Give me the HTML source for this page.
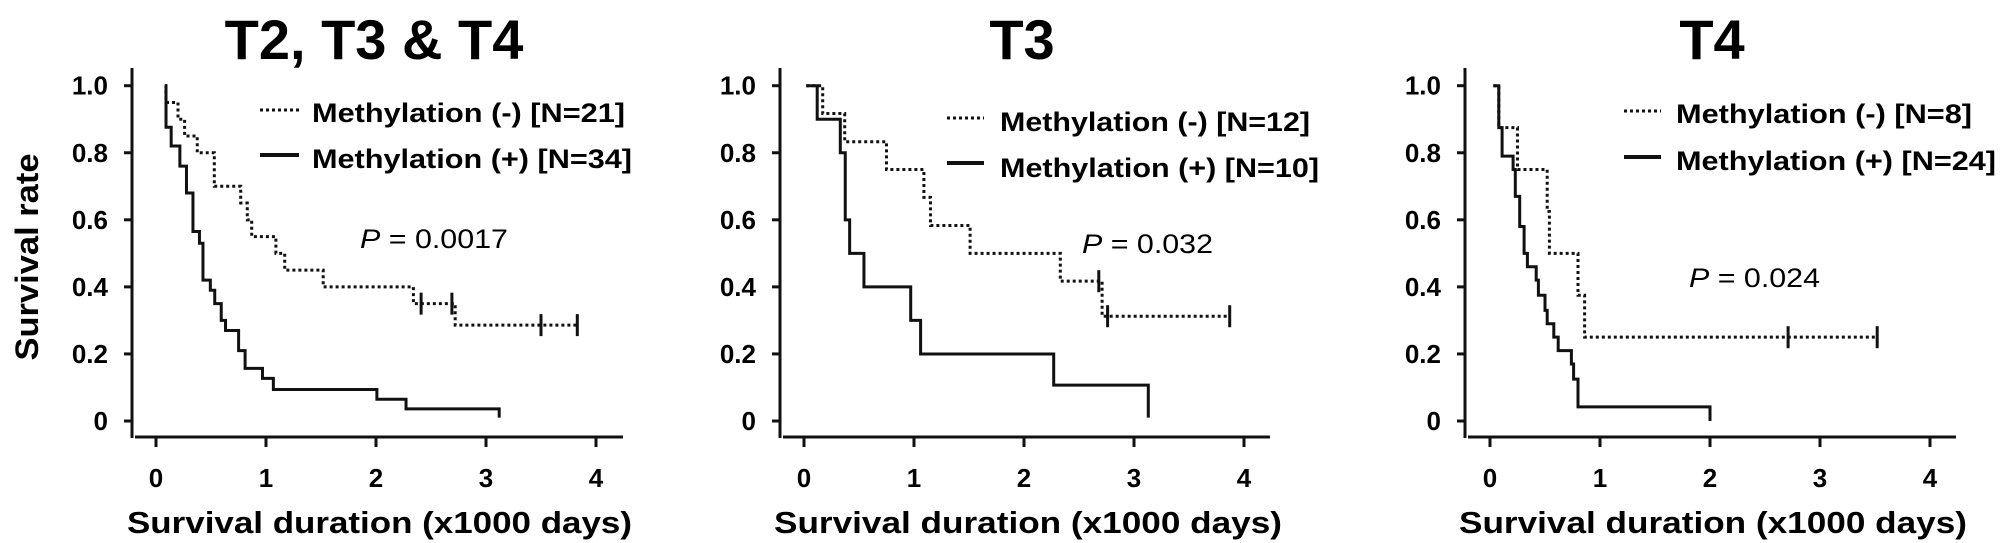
<!DOCTYPE html>
<html><head><meta charset="utf-8">
<style>
html,body{margin:0;padding:0;background:#fff;}
svg{display:block;font-family:"Liberation Sans",Arial,sans-serif;}
</style></head>
<body>
<svg id="chart" width="2008" height="543" viewBox="0 0 2008 543"></svg>
<script>
// ---- data (time in x1000 days, survival rate) ----
const xTicks = [0, 1, 2, 3, 4];
const yTicks = [0, 0.2, 0.4, 0.6, 0.8, 1.0];
const yTickLabels = ["0", "0.2", "0.4", "0.6", "0.8", "1.0"];
const panelTitles = ["T2, T3 & T4", "T3", "T4"];
const negLegend = ["Methylation (-) [N=21]", "Methylation (-) [N=12]", "Methylation (-) [N=8]"];
const posLegend = ["Methylation (+) [N=34]", "Methylation (+) [N=10]", "Methylation (+) [N=24]"];
const pValues = ["0.0017", "0.032", "0.024"];

const p1NegTimes = [0.08, 0.09, 0.2, 0.26, 0.375, 0.53, 0.77, 0.83, 0.87, 1.09, 1.17, 1.52, 2.34, 2.72, 3.83];
const p1NegSurv  = [1.0, 0.95, 0.9, 0.85, 0.8, 0.7, 0.65, 0.6, 0.55, 0.5, 0.45, 0.4, 0.35, 0.286, 0.286];
const p1NegCens  = [2.41, 2.69, 3.5, 3.83];
const p1PosTimes = [0.08, 0.091, 0.138, 0.217, 0.277, 0.336, 0.395, 0.427, 0.494, 0.534, 0.593, 0.632, 0.751, 0.81, 0.968, 1.067, 2.008, 2.273, 3.12, 3.12];
const p1PosSurv  = [1.0, 0.876, 0.82, 0.76, 0.68, 0.565, 0.53, 0.42, 0.39, 0.35, 0.30, 0.27, 0.21, 0.157, 0.127, 0.094, 0.065, 0.036, 0.036, 0.01];

const p2NegTimes = [0.02, 0.17, 0.37, 0.75, 1.09, 1.15, 1.51, 2.33, 2.71, 3.87];
const p2NegSurv  = [1.0, 0.917, 0.833, 0.75, 0.667, 0.583, 0.5, 0.417, 0.3125, 0.3125];
const p2NegCens  = [2.68, 2.76, 3.87];
const p2PosTimes = [0.02, 0.12, 0.33, 0.375, 0.415, 0.545, 0.97, 1.06, 2.27, 3.13, 3.13];
const p2PosSurv  = [1.0, 0.9, 0.8, 0.6, 0.5, 0.4, 0.3, 0.2, 0.107, 0.107, 0.01];

const p3NegTimes = [0.03, 0.08, 0.25, 0.52, 0.54, 0.8, 0.86, 3.52];
const p3NegSurv  = [1.0, 0.875, 0.75, 0.625, 0.5, 0.375, 0.25, 0.25];
const p3NegCens  = [2.71, 3.52];
const p3PosTimes = [0.03, 0.08, 0.11, 0.21, 0.23, 0.27, 0.31, 0.34, 0.42, 0.44, 0.5, 0.52, 0.58, 0.62, 0.74, 0.76, 0.8, 2.0, 2.0];
const p3PosSurv  = [1.0, 0.875, 0.79, 0.75, 0.67, 0.58, 0.5, 0.46, 0.42, 0.375, 0.33, 0.29, 0.25, 0.21, 0.17, 0.125, 0.042, 0.042, 0.0];

const NS = "http://www.w3.org/2000/svg";
const svg = document.getElementById("chart");
function mk(tag, attrs, parent) {
  const e = document.createElementNS(NS, tag);
  for (const k in attrs) e.setAttribute(k, attrs[k]);
  (parent || svg).appendChild(e);
  return e;
}
const Y0 = 421, YSCALE = 335.3;
function yPos(s) { return Y0 - s * YSCALE; }

const layouts = [
  {x0:156, axisX:132, axisEnd:623, title:374, legLine:[260,299], legY:[110,155], legText:[312,625,632], legBase:[122,168], p:[360,508,248], xl:[127,632]},
  {x0:804, axisX:780, axisEnd:1270, title:1022, legLine:[947,984], legY:[118,163], legText:[1000,1310,1319], legBase:[131,177], p:[1082,1213,253], xl:[774,1282]},
  {x0:1490, axisX:1465, axisEnd:1956, title:1712, legLine:[1624,1661], legY:[111,157], legText:[1676,1972,1996], legBase:[123,170], p:[1689,1820,287], xl:[1459,1967]}
];
const negData = [[p1NegTimes,p1NegSurv,p1NegCens],[p2NegTimes,p2NegSurv,p2NegCens],[p3NegTimes,p3NegSurv,p3NegCens]];
const posData = [[p1PosTimes,p1PosSurv],[p2PosTimes,p2PosSurv],[p3PosTimes,p3PosSurv]];

function stepPath(xf, times, surv) {
  let d = "M" + xf(times[0]) + "," + yPos(surv[0]);
  for (let i = 1; i < times.length; i++) {
    d += " H" + xf(times[i]) + " V" + yPos(surv[i]);
  }
  return d;
}

layouts.forEach((L, i) => {
  const g = mk("g", {});
  
  
  const xf = t => L.x0 + t * 110;

  const title = mk("text", {x:L.title, y:59, "text-anchor":"middle", "font-size":56, "font-weight":"bold"}, g);
  title.textContent = panelTitles[i];
  
  

  const ya = mk("line", {x1:L.axisX, y1:68, x2:L.axisX, y2:438, stroke:"#111", "stroke-width":3}, g);
  
  
  const xa = mk("line", {x1:L.axisX + 3, y1:437, x2:L.axisEnd, y2:437, stroke:"#111", "stroke-width":3}, g);
  
  

  yTicks.forEach((v, k) => {
    const y = yPos(v);
    mk("line", {x1:L.axisX - 8, y1:y, x2:L.axisX, y2:y, stroke:"#111", "stroke-width":3}, g);
    const t = mk("text", {x:L.axisX - 24, y:y + 9, "text-anchor":"end", "font-size":26, "font-weight":"bold"}, g);
    t.textContent = yTickLabels[k];
    
    
  });
  xTicks.forEach(v => {
    const x = xf(v);
    mk("line", {x1:x, y1:437, x2:x, y2:447, stroke:"#111", "stroke-width":3}, g);
    const t = mk("text", {x:x, y:487, "text-anchor":"middle", "font-size":26, "font-weight":"bold"}, g);
    t.textContent = String(v);
    
    
  });

  const xl = mk("text", {x:L.xl[0], y:533, "font-size":31, "font-weight":"bold", textLength:L.xl[1] - L.xl[0], lengthAdjust:"spacingAndGlyphs"}, g);
  xl.textContent = "Survival duration (x1000 days)";
  
  

  // legend
  const l1 = mk("line", {x1:L.legLine[0], y1:L.legY[0], x2:L.legLine[1], y2:L.legY[0], stroke:"#111", "stroke-width":3, "stroke-dasharray":"3,3"}, g);
  
  
  const t1 = mk("text", {x:L.legText[0], y:L.legBase[0], "font-size":27, "font-weight":"bold", textLength:L.legText[1] - L.legText[0], lengthAdjust:"spacingAndGlyphs"}, g);
  t1.textContent = negLegend[i];
  
  
  const l2 = mk("line", {x1:L.legLine[0], y1:L.legY[1], x2:L.legLine[1], y2:L.legY[1], stroke:"#111", "stroke-width":4}, g);
  
  
  const t2 = mk("text", {x:L.legText[0], y:L.legBase[1], "font-size":27, "font-weight":"bold", textLength:L.legText[2] - L.legText[0], lengthAdjust:"spacingAndGlyphs"}, g);
  t2.textContent = posLegend[i];
  
  

  const pt = mk("text", {x:L.p[0], y:L.p[2], "font-size":27, textLength:L.p[1] - L.p[0], lengthAdjust:"spacingAndGlyphs"}, g);
  const ps = mk("tspan", {"font-style":"italic"}, pt);
  ps.textContent = "P";
  const pr = mk("tspan", {}, pt);
  pr.textContent = " = " + pValues[i];
  
  

  // curves
  const nd = negData[i];
  const neg = mk("path", {d:stepPath(xf, nd[0], nd[1]), fill:"none", stroke:"#111", "stroke-width":3, "stroke-dasharray":"3,3"}, g);
  
  
  nd[2].forEach(c => {
    // find survival level at censor time
    let s = nd[1][0];
    for (let k = 0; k < nd[0].length; k++) if (nd[0][k] <= c) s = nd[1][k];
    const y = yPos(s);
    const cm = mk("line", {x1:xf(c), y1:y - 11, x2:xf(c), y2:y + 11, stroke:"#111", "stroke-width":3}, g);
    
    
  });
  const pd = posData[i];
  const pos = mk("path", {d:stepPath(xf, pd[0], pd[1]), fill:"none", stroke:"#111", "stroke-width":3}, g);
  
  
});

const yl = mk("text", {x:0, y:0, "font-size":32, "font-weight":"bold", "text-anchor":"middle", textLength:207, lengthAdjust:"spacingAndGlyphs", transform:"translate(38,257) rotate(-90)"});
yl.textContent = "Survival rate";


</script>
</body></html>
